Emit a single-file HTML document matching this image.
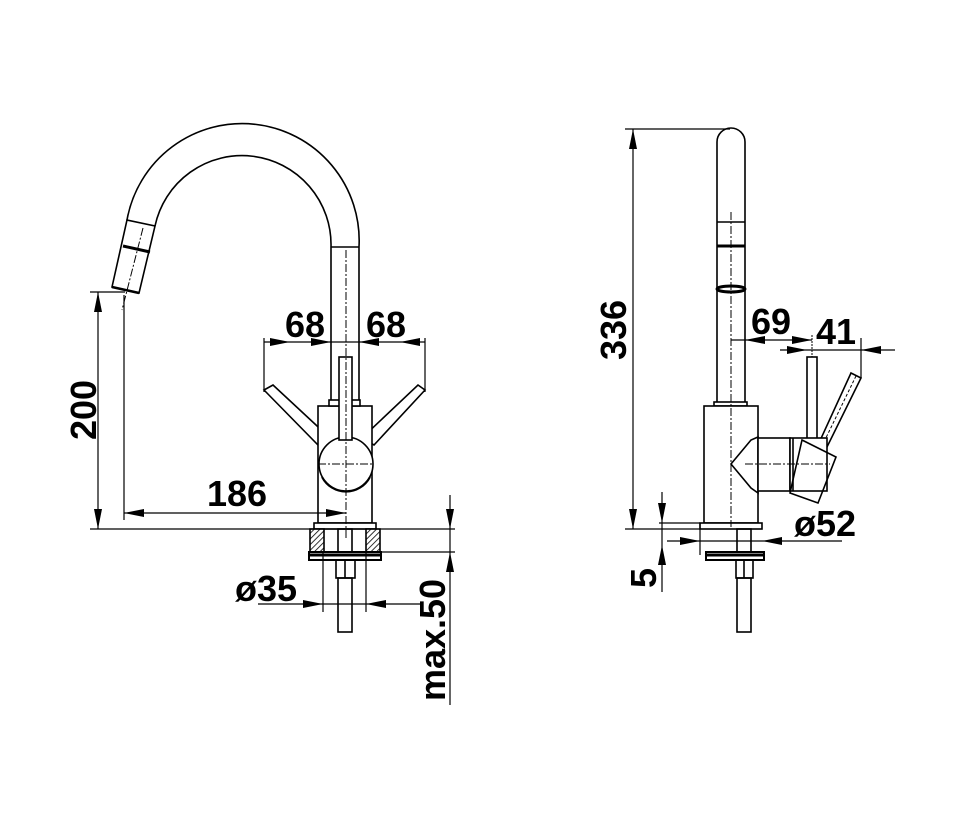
<!DOCTYPE html>
<html><head><meta charset="utf-8"><style>
html,body{margin:0;padding:0;background:#fff;}
svg{display:block;}
text{font-family:"Liberation Sans",Arial,sans-serif;font-weight:bold;fill:#000;}
</style></head><body>
<svg width="960" height="830" viewBox="0 0 960 830" xmlns="http://www.w3.org/2000/svg">
<defs>
<pattern id="h" width="4" height="4" patternUnits="userSpaceOnUse" patternTransform="rotate(45)">
<rect width="4" height="4" fill="#fff"/><line x1="0" y1="0" x2="0" y2="4" stroke="#000" stroke-width="1.6"/></pattern>
</defs>
<g fill="none" stroke="#000" stroke-width="1.6">
<path d="M359,402 L359,247 A117,117 0 0 0 127,220"/>
<path d="M331,402 L331,247 A89,89 0 0 0 155,226"/>
<line x1="331" y1="247" x2="359" y2="247"/>
<polygon points="127,220 155,226 139,293 112,287" fill="#fff"/>
<line x1="123" y1="246" x2="150" y2="252" stroke-width="3"/>
<line x1="112" y1="287" x2="139" y2="293" stroke-width="2.5"/>
<polygon points="264,390 273,385 330,438 318,445" fill="#fff"/>
<polygon points="425,390 418,385 362,438 374,445" fill="#fff"/>
<rect x="318" y="406" width="54" height="117" fill="#fff"/>
<rect x="329" y="400" width="31" height="6" fill="#fff"/>
<circle cx="346" cy="464" r="27" fill="#fff"/>
<path d="M322,477 A27,27 0 0 0 370,477" stroke-width="2"/>
<rect x="339" y="357" width="13" height="83" fill="#fff"/>
<rect x="314" y="523" width="62" height="6" fill="#fff"/>
<rect x="310" y="529" width="14" height="23" fill="url(#h)"/>
<rect x="366" y="529" width="14" height="23" fill="url(#h)"/>
<rect x="338" y="529" width="14" height="23"/>
<rect x="309" y="552" width="72" height="8" fill="#fff" stroke-width="2"/>
<line x1="309" y1="555" x2="381" y2="555" stroke-width="3"/>
<rect x="336" y="560" width="19" height="18"/>
<line x1="345" y1="560" x2="345" y2="578"/>
<rect x="338" y="578" width="14" height="54"/>
<line x1="90" y1="529" x2="455" y2="529" stroke-width="1.2"/>
<line x1="380" y1="552" x2="455" y2="552" stroke-width="1.2"/>
<line x1="90" y1="292" x2="125" y2="292" stroke-width="1.2"/>
<line x1="98" y1="292" x2="98" y2="529" stroke-width="1.2"/>
<line x1="124" y1="295" x2="124" y2="520" stroke-width="1.2"/>
<line x1="124" y1="513" x2="346" y2="513" stroke-width="1.2"/>
<line x1="264" y1="342" x2="425" y2="342" stroke-width="1.2"/>
<line x1="264" y1="338" x2="264" y2="392" stroke-width="1.2"/>
<line x1="425" y1="338" x2="425" y2="392" stroke-width="1.2"/>
<line x1="258" y1="604" x2="420" y2="604" stroke-width="1.2"/>
<line x1="323" y1="553" x2="323" y2="612" stroke-width="1.2"/>
<line x1="366" y1="553" x2="366" y2="612" stroke-width="1.2"/>
<line x1="450" y1="495" x2="450" y2="705" stroke-width="1.2"/>
<g stroke-width="1" stroke-dasharray="8,2,2,2">
<line x1="346" y1="250" x2="346" y2="540"/>
<line x1="318" y1="464" x2="374" y2="464"/>
<line x1="143" y1="228" x2="122" y2="310"/>
</g>
<path d="M717,402 L717,142 A14,14 0 0 1 745,142 L745,402" fill="#fff"/>
<line x1="717" y1="222" x2="745" y2="222"/>
<line x1="717" y1="246" x2="745" y2="246" stroke-width="3"/>
<ellipse cx="731" cy="289" rx="14" ry="3" stroke-width="3"/>
<rect x="714" y="402" width="33" height="4" fill="#fff"/>
<rect x="704" y="406" width="54" height="117" fill="#fff"/>
<polygon points="851,373 861,378 827,447 818,445" fill="#fff"/>
<line x1="856" y1="376" x2="822" y2="446" stroke-dasharray="3,2" stroke-width="1"/>
<rect x="807" y="357" width="10" height="82" fill="#fff"/>
<polygon points="758,437 751,440 731,464 751,488 758,493" fill="#fff"/>
<rect x="758" y="438" width="32" height="53" fill="#fff"/>
<rect x="790" y="438" width="37" height="53" fill="#fff"/>
<line x1="793" y1="438" x2="793" y2="491"/>
<polygon points="802,440 836,457 818,503 790,493" fill="none"/>
<rect x="700" y="523" width="62" height="6" fill="#fff"/>
<rect x="737" y="529" width="14" height="23"/>
<rect x="706" y="552" width="58" height="8" fill="#fff" stroke-width="2"/>
<line x1="706" y1="555" x2="764" y2="555" stroke-width="3"/>
<rect x="736" y="560" width="17" height="18"/>
<line x1="744" y1="560" x2="744" y2="578"/>
<rect x="737" y="578" width="14" height="54"/>
<line x1="625" y1="129" x2="730" y2="129" stroke-width="1.2"/>
<line x1="633" y1="129" x2="633" y2="529" stroke-width="1.2"/>
<line x1="625" y1="529" x2="700" y2="529" stroke-width="1.2"/>
<line x1="659" y1="523" x2="700" y2="523" stroke-width="1.2"/>
<line x1="662" y1="492" x2="662" y2="592" stroke-width="1.2"/>
<line x1="667" y1="541" x2="842" y2="541" stroke-width="1.2"/>
<line x1="700" y1="523" x2="700" y2="555" stroke-width="1.2"/>
<line x1="731" y1="340" x2="812" y2="340" stroke-width="1.2"/>
<line x1="780" y1="350" x2="895" y2="350" stroke-width="1.2"/>
<line x1="861" y1="338" x2="861" y2="378" stroke-width="1.2"/>
<line x1="812" y1="335" x2="812" y2="357" stroke-width="1" stroke-dasharray="2,1"/>
<g stroke-width="1" stroke-dasharray="8,2,2,2">
<line x1="731" y1="212" x2="731" y2="527"/>
<line x1="745" y1="464" x2="830" y2="464"/>
</g>
</g>
<g fill="#000">
<polygon points="98,292 94,312 102,312"/>
<polygon points="98,529 94,509 102,509"/>
<polygon points="124,513 144,509 144,517"/>
<polygon points="346,513 326,509 326,517"/>
<polygon points="290,342 270,338 270,346"/>
<polygon points="331,342 311,338 311,346"/>
<polygon points="359,342 379,338 379,346"/>
<polygon points="400,342 420,338 420,346"/>
<polygon points="323,604 303,600 303,608"/>
<polygon points="366,604 386,600 386,608"/>
<polygon points="450,529 446,509 454,509"/>
<polygon points="450,552 446,572 454,572"/>
<polygon points="633,129 629,149 637,149"/>
<polygon points="633,529 629,509 637,509"/>
<polygon points="662,523 658,503 666,503"/>
<polygon points="662,545 658,565 666,565"/>
<polygon points="700,541 680,537 680,545"/>
<polygon points="762,541 782,537 782,545"/>
<polygon points="745,340 765,336 765,344"/>
<polygon points="812,340 792,336 792,344"/>
<polygon points="807,350 787,346 787,354"/>
<polygon points="861,350 881,346 881,354"/>
</g>
<g font-size="36">
<text x="305" y="337" text-anchor="middle">68</text>
<text x="386" y="337" text-anchor="middle">68</text>
<text x="237" y="506" text-anchor="middle">186</text>
<text x="266" y="601" text-anchor="middle">ø35</text>
<text x="0" y="0" text-anchor="middle" transform="translate(96,410) rotate(-90)">200</text>
<text x="0" y="0" text-anchor="middle" transform="translate(445,640) rotate(-90)">max.50</text>
<text x="0" y="0" text-anchor="middle" transform="translate(626,330) rotate(-90)">336</text>
<text x="0" y="0" text-anchor="middle" transform="translate(656,578) rotate(-90)">5</text>
<text x="771" y="334" text-anchor="middle">69</text>
<text x="836" y="344" text-anchor="middle">41</text>
<text x="825" y="536" text-anchor="middle">ø52</text>
</g>
</svg>
</body></html>
